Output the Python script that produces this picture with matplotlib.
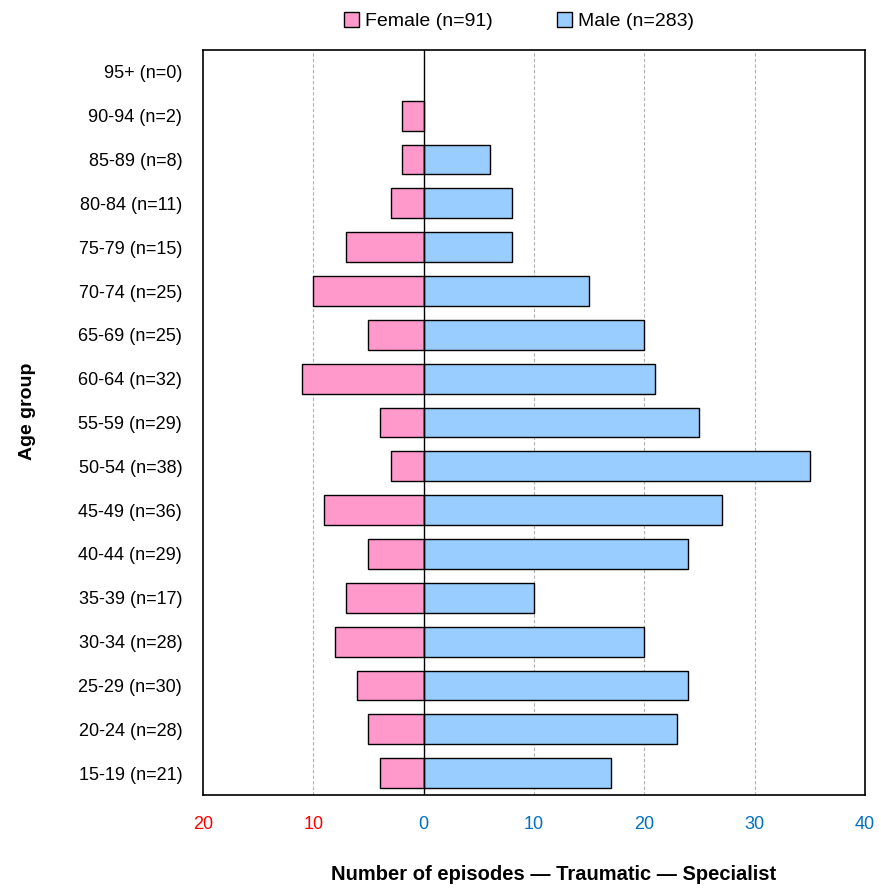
import matplotlib
matplotlib.use("Agg")
import matplotlib.pyplot as plt
from matplotlib.patches import Patch

plt.rcParams['font.family'] = ['Liberation Sans Narrow', 'Liberation Sans', 'DejaVu Sans']

age_groups = ["15-19 (n=21)", "20-24 (n=28)", "25-29 (n=30)", "30-34 (n=28)", "35-39 (n=17)",
              "40-44 (n=29)", "45-49 (n=36)", "50-54 (n=38)", "55-59 (n=29)", "60-64 (n=32)",
              "65-69 (n=25)", "70-74 (n=25)", "75-79 (n=15)", "80-84 (n=11)", "85-89 (n=8)",
              "90-94 (n=2)", "95+ (n=0)"]
female = [4, 5, 6, 8, 7, 5, 9, 3, 4, 11, 5, 10, 7, 3, 2, 2, 0]
male = [17, 23, 24, 20, 10, 24, 27, 35, 25, 21, 20, 15, 8, 8, 6, 0, 0]
xticks = [-20, -10, 0, 10, 20, 30, 40]
xticklabels = ["20", "10", "0", "10", "20", "30", "40"]
tick_colors = ["#FF0000", "#FF0000", "#0070C0", "#0070C0", "#0070C0", "#0070C0", "#0070C0"]

fig = plt.figure(figsize=(8.81, 8.89), dpi=100)
ax = fig.add_axes([0.2304, 0.1057, 0.7514, 0.8381])

y = list(range(len(age_groups)))
fy = [yy for yy, f in zip(y, female) if f > 0]
fv = [-f for f in female if f > 0]
my = [yy for yy, m in zip(y, male) if m > 0]
mv = [m for m in male if m > 0]
ax.barh(fy, fv, height=0.68, color="#FF99CC", edgecolor="black", linewidth=1.0, zorder=3)
ax.barh(my, mv, height=0.68, color="#99CCFF", edgecolor="black", linewidth=1.0, zorder=3)

ax.set_xlim(-20, 40)
ax.set_ylim(-0.5, len(age_groups) - 0.5)
ax.set_yticks(y)
ax.set_yticklabels(age_groups, fontsize=13)
ax.set_xticks(xticks)
ax.set_xticklabels(xticklabels, fontsize=13)
for lbl, c in zip(ax.get_xticklabels(), tick_colors):
    lbl.set_color(c)
ax.tick_params(axis='y', length=0, pad=15)
ax.tick_params(axis='x', length=0, pad=15)

for v in [-10, 10, 20, 30]:
    ax.axvline(v, color="#B0B0B0", linestyle=(0, (3, 2)), linewidth=0.8, zorder=1)
ax.axvline(0, color="black", linewidth=1.0, zorder=4)

for s in ax.spines.values():
    s.set_linewidth(1.2)

ax.set_ylabel("Age group", fontsize=14, fontweight="bold")
ax.yaxis.set_label_coords(-0.252, 0.515)
ax.set_xlabel("Number of episodes \u2014 Traumatic \u2014 Specialist", fontsize=14.5, fontweight="bold")
ax.xaxis.set_label_coords(0.529, -0.094)

handles = [Patch(facecolor="#FF99CC", edgecolor="black", label="Female (n=91)"),
           Patch(facecolor="#99CCFF", edgecolor="black", label="Male (n=283)")]
fig.legend(handles=handles, loc="center", bbox_to_anchor=(0.589, 0.976), ncol=2, frameon=False,
           fontsize=14, handlelength=0.8, handleheight=0.8, handletextpad=0.3, columnspacing=3.3)

fig.savefig("out.png", dpi=100)
